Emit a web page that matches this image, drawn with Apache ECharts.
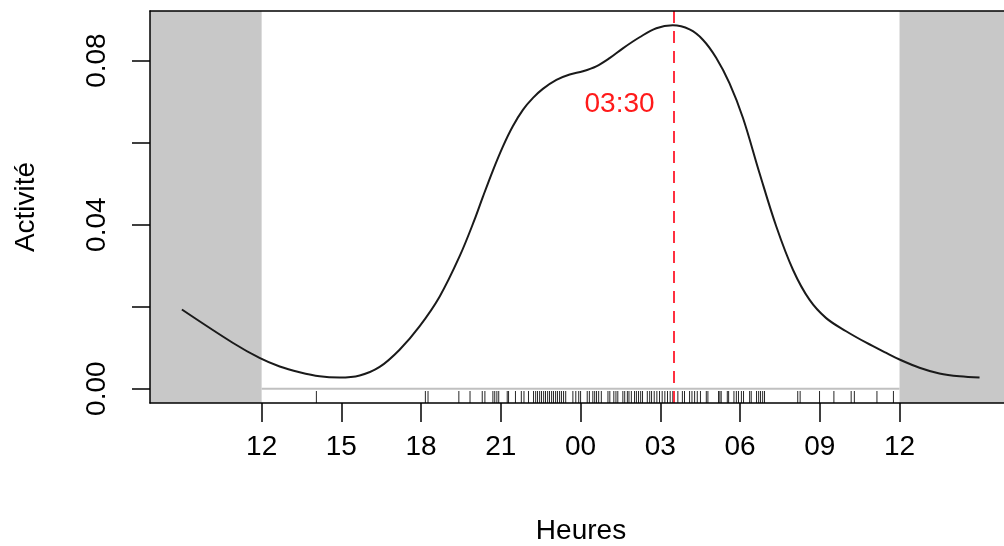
<!DOCTYPE html>
<html><head><meta charset="utf-8">
<script src="https://cdn.jsdelivr.net/npm/echarts@6/dist/echarts.min.js"></script>
<style>html,body{margin:0;padding:0;background:#fff;overflow:hidden}#c{width:1004px;height:546px}</style>
</head><body><div id="c"></div>
<script>
// Density curve (hours, 12 -> 36 = noon to next noon)
const curveHours = [9.0,10.91,11.92,12.68,13.43,14.18,14.93,15.69,16.44,17.19,17.94,18.70,19.45,20.01,20.32,20.70,21.08,21.45,21.83,22.21,22.58,23.09,23.59,24.09,24.59,25.09,25.59,26.22,26.85,27.47,28.10,28.60,29.10,29.60,30.11,30.73,31.36,31.99,32.61,33.24,33.99,34.75,35.50,36.00,36.75,37.50,38.26,39.01];
const curveValues = [0.0193,0.0112,0.0075,0.0054,0.0040,0.0030,0.0027,0.0032,0.0053,0.0095,0.0152,0.0225,0.0323,0.0412,0.0467,0.0532,0.0591,0.0640,0.0680,0.0709,0.0731,0.0753,0.0766,0.0774,0.0786,0.0806,0.0830,0.0857,0.0879,0.0886,0.0876,0.0851,0.0807,0.0745,0.0660,0.0526,0.0396,0.0290,0.0217,0.0172,0.0140,0.0112,0.0087,0.0071,0.0051,0.0037,0.0030,0.0027];
// Observation times (rug)
const rugHours = [14.06,18.16,18.26,19.42,19.84,20.30,20.40,20.70,20.77,20.85,20.92,21.24,21.29,21.55,21.77,21.87,22.04,
22.23,22.31,22.38,22.46,22.53,22.61,22.68,22.76,22.83,22.91,22.98,23.06,23.13,23.21,23.28,23.36,23.44,
23.71,23.82,23.93,24.00,24.25,24.33,24.46,24.53,24.60,24.68,24.78,25.03,25.10,25.25,25.33,25.40,25.59,25.66,25.76,25.82,25.91,
26.03,26.10,26.18,26.26,26.33,26.51,26.60,26.67,26.77,26.87,26.97,27.07,27.17,27.27,27.37,27.47,27.66,27.83,27.91,
28.10,28.19,28.29,28.39,28.51,28.73,28.79,29.19,29.24,29.29,29.52,29.57,29.77,29.86,29.94,30.05,30.13,30.36,30.42,
30.62,30.70,30.77,30.85,30.92,32.17,32.26,32.99,33.53,34.18,34.30,35.15,35.77];
const peakHour = 27.5;
const peakLabel = '03:30';
const peakLabelValue = 0.0693;
const xTicks = [12,15,18,21,24,27,30,33,36];
const xTickLabels = ['12','15','18','21','00','03','06','09','12'];
const yTicks = [0,0.02,0.04,0.06,0.08];
const yLabelValues = [0,0.04,0.08];
const dayStart = 12, dayEnd = 36;
// the plotting window is cropped on the right in the reference
const xMin = 7.8, xMax = 39.93, yMin = -0.0035, yMax = 0.0921;

const FONT = 'Liberation Sans, Arial, sans-serif';
const boxLine = {show:true, onZero:false, lineStyle:{color:'#000', width:1.5}};
const chart = echarts.init(document.getElementById('c'), null, {renderer:'canvas'});
chart.setOption({
  animation:false,
  backgroundColor:'#fff',
  grid:{left:150, top:11, height:392, right:0, show:false, containLabel:false, outerBoundsMode:'none'},
  xAxis:[{type:'value', min:xMin, max:xMax, z:10,
    name:'Heures', nameLocation:'middle', nameGap:114,
    nameTextStyle:{fontFamily:FONT, fontSize:28, color:'#000', padding:[0,0,0,8]},
    axisLine:boxLine, splitLine:{show:false},
    axisTick:{show:true, customValues:xTicks, length:19, lineStyle:{color:'#000', width:1.5}},
    axisLabel:{customValues:xTicks, margin:30, fontFamily:FONT, fontSize:28, color:'#000',
      formatter:v=>xTickLabels[xTicks.indexOf(v)]}
  },{type:'value', position:'top', min:xMin, max:xMax, z:10,
    axisLine:boxLine, axisTick:{show:false}, axisLabel:{show:false}, splitLine:{show:false}}],
  yAxis:{type:'value', min:yMin, max:yMax, z:10,
    name:'Activité', nameLocation:'middle', nameGap:110,
    nameTextStyle:{fontFamily:FONT, fontSize:28, color:'#000'},
    axisLine:boxLine, splitLine:{show:false},
    axisTick:{show:true, customValues:yTicks, length:18, lineStyle:{color:'#000', width:1.5}},
    axisLabel:{customValues:yLabelValues, rotate:90, margin:39, fontFamily:FONT, fontSize:28, color:'#000',
      formatter:v=>v.toFixed(2)}
  },
  series:[
    {type:'line', data:[[dayStart,0],[dayEnd,0]], symbol:'none', silent:true, z:1,
      lineStyle:{color:'#c0c0c0', width:2},
      markArea:{silent:true, itemStyle:{color:'#c8c8c8'},
        data:[[{xAxis:xMin},{xAxis:dayStart}],[{xAxis:dayEnd},{xAxis:xMax}]]}},
    {type:'custom', z:3, silent:true,
      data:rugHours.map(h=>[h,yMin]),
      renderItem:(params, api)=>{
        const p = api.coord([api.value(0), yMin]);
        return {type:'line', shape:{x1:p[0], y1:p[1], x2:p[0], y2:p[1]-12},
          style:{stroke:'rgba(0,0,0,0.85)', lineWidth:1}};
      }},
    {type:'line', data:curveHours.map((h,i)=>[h,curveValues[i]]), symbol:'none', smooth:0.35, z:4,
      lineStyle:{color:'#1a1a1a', width:2},
      markLine:{silent:true, symbol:'none', label:{show:false},
        lineStyle:{color:'#ff3040', width:2, type:[12,8]},
        data:[{xAxis:peakHour}]},
      markPoint:{silent:true, symbol:'circle', symbolSize:0,
        label:{show:true, position:'left', distance:19, formatter:peakLabel, color:'#ff1a1a', fontFamily:FONT, fontSize:28},
        data:[{coord:[peakHour, peakLabelValue]}]}
    }
  ]
});
</script></body></html>
